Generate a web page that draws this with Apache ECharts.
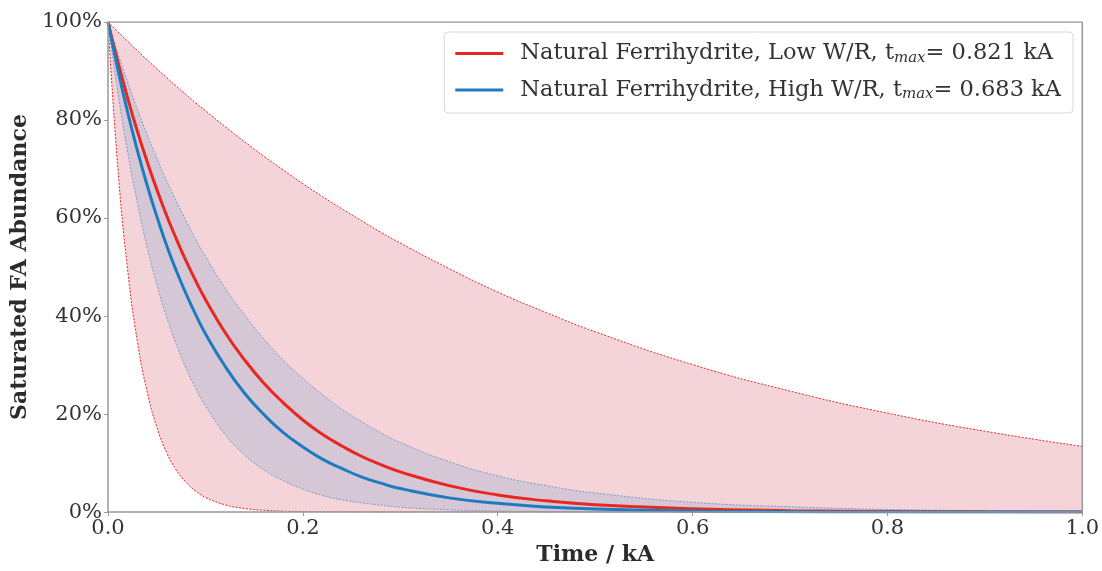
<!DOCTYPE html>
<html>
<head>
<meta charset="utf-8">
<script src="https://cdn.jsdelivr.net/npm/echarts@6/dist/echarts.min.js"></script>
<style>
html,body{margin:0;padding:0;background:#fff;}
#chart{width:1102px;height:571px;}
</style>
</head>
<body>
<div id="chart"></div>
<script>
// Time samples (kA)
const times = [0, 0.01, 0.02, 0.03, 0.04, 0.05, 0.06, 0.07, 0.08, 0.09, 0.10, 0.12, 0.14, 0.16, 0.18, 0.20, 0.22, 0.24, 0.26, 0.28, 0.30, 0.35, 0.40, 0.45, 0.50, 0.60, 0.70, 0.80, 0.90, 1.00];
// Saturated FA abundance (%)
const redMain   = [100, 92.0, 84.6, 77.8, 71.6, 65.9, 60.6, 55.8, 51.3, 47.2, 43.4, 36.7, 31.1, 26.3, 22.3, 18.8, 15.9, 13.5, 11.4, 9.7, 8.2, 5.4, 3.5, 2.3, 1.5, 0.67, 0.29, 0.13, 0.05, 0.02];
const redUpper  = [100, 98.0, 96.1, 94.2, 92.3, 90.5, 88.7, 86.9, 85.2, 83.5, 81.9, 78.7, 75.6, 72.6, 69.8, 67.0, 64.4, 61.9, 59.5, 57.1, 54.9, 49.7, 44.9, 40.7, 36.8, 30.1, 24.7, 20.2, 16.5, 13.4];
const redLower  = [100, 70.5, 49.7, 35.0, 24.7, 17.4, 12.2, 8.6, 6.1, 4.3, 3.0, 1.5, 0.74, 0.37, 0.18, 0.1, 0.05, 0.02, 0.01, 0, 0, 0, 0, 0, 0, 0, 0, 0, 0, 0];
const blueMain  = [100, 90.4, 81.7, 73.9, 66.8, 60.4, 54.5, 49.3, 44.6, 40.3, 36.4, 29.8, 24.3, 19.9, 16.2, 13.3, 10.8, 8.9, 7.2, 5.9, 4.8, 2.9, 1.8, 1.05, 0.64, 0.23, 0.08, 0.03, 0.01, 0];
const blueUpper = [100, 93.7, 87.8, 82.3, 77.1, 72.3, 67.7, 63.5, 59.5, 55.7, 52.2, 45.8, 40.3, 35.3, 31.0, 27.3, 24.0, 21.0, 18.5, 16.2, 14.2, 10.3, 7.4, 5.4, 3.9, 2.0, 1.1, 0.55, 0.29, 0.15];
const blueLower = [100, 85.8, 73.6, 63.2, 54.2, 46.5, 39.9, 34.3, 29.4, 25.2, 21.7, 15.9, 11.7, 8.6, 6.4, 4.7, 3.4, 2.5, 1.9, 1.4, 1.0, 0.47, 0.22, 0.1, 0.05, 0.01, 0, 0, 0, 0];
const xTicks = [0, 0.2, 0.4, 0.6, 0.8, 1.0];
const yTicks = [0, 20, 40, 60, 80, 100];
const legendNames = ['Natural Ferrihydrite, Low W/R, t{sub|max}= 0.821 kA', 'Natural Ferrihydrite, High W/R, t{sub|max}= 0.683 kA'];

const pairs = arr => times.map((t, i) => [t, arr[i]]);

const serif = 'DejaVu Serif';
const PINK = '#f4d4d9';
const PURPLE = '#d6c7d6';
const RED = '#e82820';
const BLUE = '#1f7bbf';
const SM = 0.5;

function fillSeries(arr, color, z) {
  return {
    type: 'line', data: pairs(arr), smooth: SM,
    symbol: 'none', silent: true, z: z,
    lineStyle: { width: 0 },
    areaStyle: { color: color, opacity: 1 }
  };
}
function boundSeries(arr, color, z) {
  return {
    type: 'line', data: pairs(arr), smooth: SM,
    symbol: 'none', silent: true, z: z,
    lineStyle: { width: 1, color: color, type: [2, 1.5] }
  };
}

const chart = echarts.init(document.getElementById('chart'), null, { renderer: 'canvas' });
chart.setOption({
  animation: false,
  backgroundColor: '#fff',
  grid: { left: 108, right: 19, top: 22, bottom: 51, show: false },
  legend: {
    right: 29, top: 32,
    orient: 'vertical',
    data: [
      { name: legendNames[0], icon: 'rect' },
      { name: legendNames[1], icon: 'rect' }
    ],
    itemWidth: 48, itemHeight: 3, itemGap: 13,
    padding: [10, 12, 11, 11],
    borderColor: '#d8d8d8', borderWidth: 1, borderRadius: 4,
    backgroundColor: 'rgba(255,255,255,0.85)',
    textStyle: {
      fontFamily: serif, fontSize: 22.5, color: '#333', padding: [0, 0, 0, 12],
      rich: {
        sub: { fontFamily: serif, fontSize: 15, fontStyle: 'italic', color: '#333', padding: [9, 0, 0, 0] }
      }
    }
  },
  xAxis: {
    type: 'value', min: 0, max: 1, interval: 0.2, z: 10,
    name: 'Time / kA', nameLocation: 'middle', nameGap: 31,
    nameTextStyle: { fontFamily: serif, fontSize: 22, fontWeight: 'bold', color: '#2b2b2b' },
    axisLine: { show: true, onZero: false, lineStyle: { color: '#999', width: 1.5 } },
    axisTick: { show: true, length: 4, lineStyle: { color: '#999' } },
    axisLabel: { fontFamily: serif, fontSize: 21, color: '#333', margin: 6, formatter: v => v.toFixed(1) },
    splitLine: { show: false }
  },
  yAxis: {
    type: 'value', min: 0, max: 100, interval: 20, z: 10,
    name: 'Saturated FA Abundance', nameLocation: 'middle', nameGap: 74,
    nameTextStyle: { fontFamily: serif, fontSize: 22, fontWeight: 'bold', color: '#2b2b2b' },
    axisLine: { show: true, onZero: false, lineStyle: { color: '#999', width: 1.5 } },
    axisTick: { show: true, length: 4, lineStyle: { color: '#999' } },
    axisLabel: { fontFamily: serif, fontSize: 21, color: '#333', margin: 6, formatter: v => v + '%' },
    splitLine: { show: false }
  },
  series: [
    fillSeries(redUpper, PINK, 1),
    fillSeries(blueUpper, PURPLE, 2),
    fillSeries(blueLower, PINK, 3),
    fillSeries(redLower, '#ffffff', 4),
    boundSeries(redUpper, RED, 5),
    boundSeries(redLower, RED, 5),
    boundSeries(blueUpper, '#7a9cc6', 5),
    boundSeries(blueLower, '#7a9cc6', 5),
    {
      name: legendNames[0], type: 'line', data: pairs(redMain), smooth: SM,
      symbol: 'none', z: 6, color: RED, lineStyle: { width: 3, color: RED }
    },
    {
      name: legendNames[1], type: 'line', data: pairs(blueMain), smooth: SM,
      symbol: 'none', z: 7, color: BLUE, lineStyle: { width: 3, color: BLUE }
    },
    // top and right frame
    {
      type: 'line', data: [[0, 100], [1, 100], [1, 0]], symbol: 'none', silent: true, z: 10,
      lineStyle: { width: 1.5, color: '#999' }
    }
  ]
});
</script>
</body>
</html>
